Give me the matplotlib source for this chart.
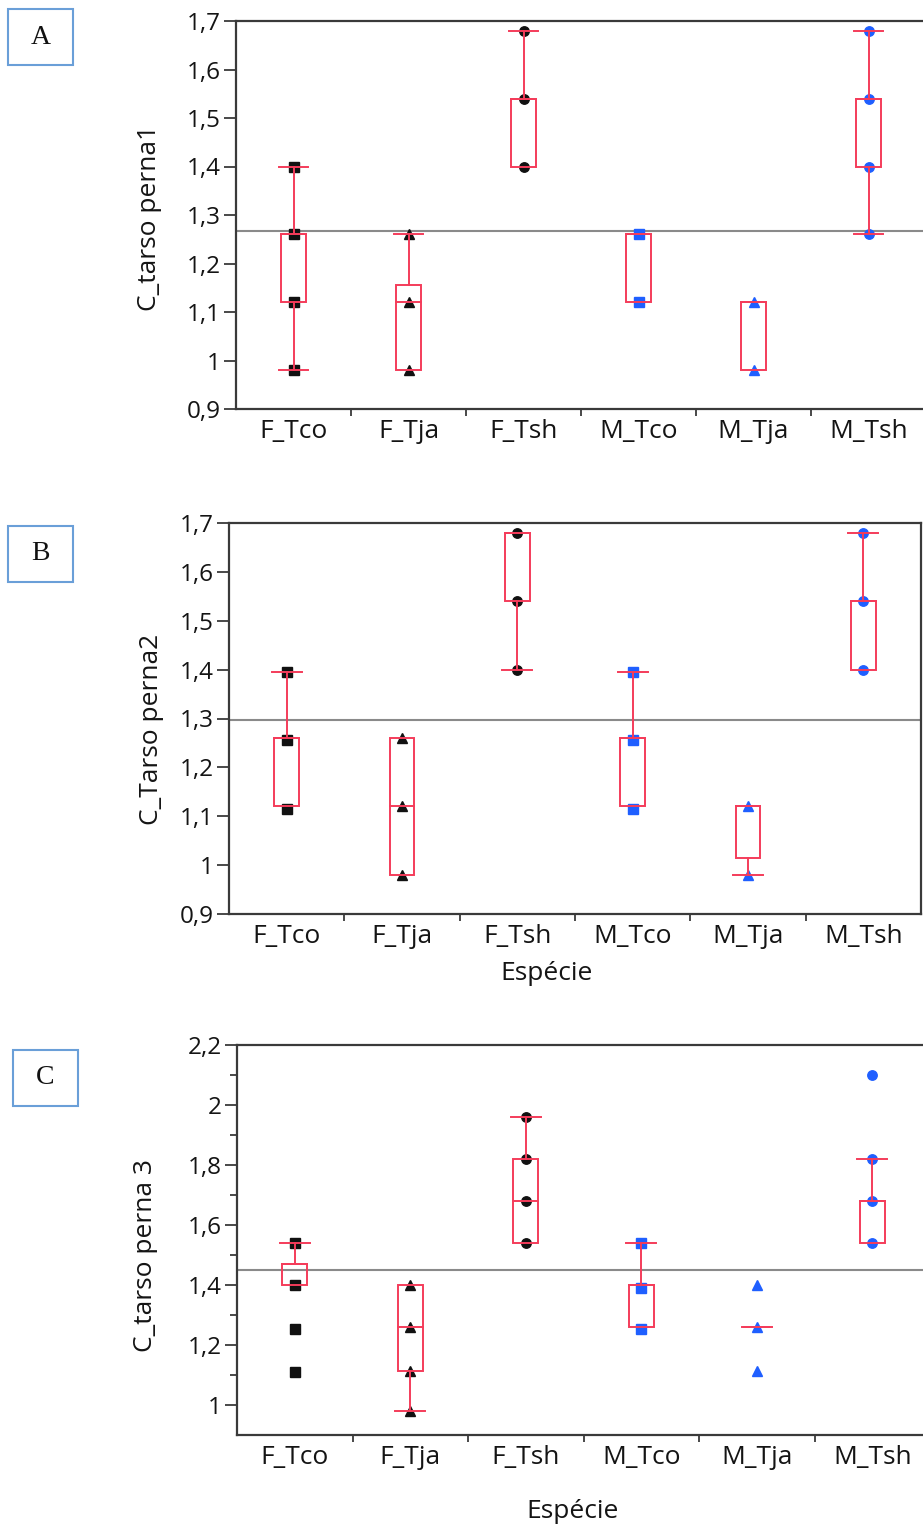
import matplotlib
matplotlib.use("Agg")
import matplotlib.pyplot as plt
from matplotlib.patches import Rectangle

plt.rcParams['font.family'] = ['Open Sans', 'DejaVu Sans']

W, H = 923, 1528

categories = ["F_Tco", "F_Tja", "F_Tsh", "M_Tco", "M_Tja", "M_Tsh"]

# panel A - C_tarso perna1
A_points = [[1.40, 1.26, 1.12, 0.98], [1.26, 1.12, 0.98], [1.68, 1.54, 1.40],
            [1.26, 1.12], [1.12, 0.98], [1.68, 1.54, 1.40, 1.26]]
A_q1 = [1.12, 0.98, 1.40, 1.12, 0.98, 1.40]
A_med = [1.26, 1.12, 1.54, 1.26, 1.12, 1.54]
A_q3 = [1.26, 1.155, 1.54, 1.26, 1.12, 1.54]
A_wlo = [0.98, 0.98, 1.40, 1.12, 0.98, 1.26]
A_whi = [1.40, 1.26, 1.68, 1.26, 1.12, 1.68]
A_mean = 1.268
A_yticks = [0.9, 1.0, 1.1, 1.2, 1.3, 1.4, 1.5, 1.6, 1.7]
A_ylabels = ["0,9", "1", "1,1", "1,2", "1,3", "1,4", "1,5", "1,6", "1,7"]

# panel B - C_Tarso perna2
B_points = [[1.395, 1.255, 1.115], [1.26, 1.12, 0.98], [1.68, 1.54, 1.40],
            [1.395, 1.255, 1.115], [1.12, 0.98], [1.68, 1.54, 1.40]]
B_q1 = [1.12, 0.98, 1.54, 1.12, 1.015, 1.40]
B_med = [1.26, 1.12, 1.68, 1.26, 1.12, 1.54]
B_q3 = [1.26, 1.26, 1.68, 1.26, 1.12, 1.54]
B_wlo = [1.12, 0.98, 1.40, 1.12, 0.98, 1.40]
B_whi = [1.395, 1.26, 1.68, 1.395, 1.12, 1.68]
B_mean = 1.297

# panel C - C_tarso perna 3
C_points = [[1.54, 1.40, 1.255, 1.11], [1.40, 1.26, 1.115, 0.98], [1.96, 1.82, 1.68, 1.54],
            [1.54, 1.39, 1.255], [1.40, 1.26, 1.115], [2.10, 1.82, 1.68, 1.54]]
C_q1 = [1.40, 1.115, 1.54, 1.26, 1.26, 1.54]
C_med = [1.47, 1.26, 1.68, 1.40, 1.26, 1.68]
C_q3 = [1.47, 1.40, 1.82, 1.40, 1.26, 1.68]
C_wlo = [1.40, 0.98, 1.54, 1.26, 1.26, 1.54]
C_whi = [1.54, 1.40, 1.96, 1.54, 1.26, 1.82]
C_mean = 1.45
C_yticks = [1.0, 1.2, 1.4, 1.6, 1.8, 2.0, 2.2]
C_ylabels = ["1", "1,2", "1,4", "1,6", "1,8", "2", "2,2"]
C_yminor = [1.1, 1.3, 1.5, 1.7, 1.9, 2.1]

marks = ["s", "^", "o", "s", "^", "o"]
cols = ["#111111", "#111111", "#111111", "#1f5fff", "#1f5fff", "#1f5fff"]
RED = "#f43c5a"
SPINE = "#3a3a3a"
TXT = "#141414"
FS = 19      # category labels / axis titles
FSY = 17.5   # y tick labels


def px(x0, y0, w, h):
    return [x0 / W, 1 - (y0 + h) / H, w / W, h / H]


def panel(rect, points, q1, med, q3, wlo, whi, mean, ylim, right_spine=False):
    ax = fig.add_axes(rect)
    for i in range(len(categories)):
        ax.plot([i] * len(points[i]), points[i], linestyle="none", marker=marks[i],
                color=cols[i], markersize=6.8, zorder=2)
        bw = 0.107
        ax.add_patch(Rectangle((i - bw, q1[i]), 2 * bw, q3[i] - q1[i], fill=False,
                               edgecolor=RED, linewidth=1.4, zorder=3))
        ax.plot([i - bw, i + bw], [med[i], med[i]], color=RED, lw=1.4, zorder=3)
        if q1[i] == q3[i]:
            ax.plot([i - 0.13, i + 0.13], [med[i], med[i]], color=RED, lw=1.4, zorder=3)
        if whi[i] > q3[i]:
            ax.plot([i, i], [q3[i], whi[i]], color=RED, lw=1.4, zorder=3)
            ax.plot([i - 0.13, i + 0.13], [whi[i], whi[i]], color=RED, lw=1.4, zorder=3)
        if wlo[i] < q1[i]:
            ax.plot([i, i], [wlo[i], q1[i]], color=RED, lw=1.4, zorder=3)
            ax.plot([i - 0.13, i + 0.13], [wlo[i], wlo[i]], color=RED, lw=1.4, zorder=3)
    ax.axhline(mean, color="#8a8a8a", lw=1.5, zorder=1)
    ax.set_xlim(-0.5, len(categories) - 0.5)
    ax.set_ylim(*ylim)
    ax.set_xticks(range(len(categories)))
    ax.set_xticklabels(categories, fontsize=FS, color=TXT)
    ax.set_xticks([i + 0.5 for i in range(len(categories) - 1)], minor=True)
    ax.tick_params(axis="x", which="major", length=0, pad=7)
    ax.tick_params(axis="x", which="minor", length=5, width=1.3, color=SPINE)
    ax.tick_params(axis="y", which="major", length=9, width=1.3, color=SPINE, pad=2,
                   labelsize=FSY, labelcolor=TXT)
    for s in ["left", "bottom", "top", "right"]:
        ax.spines[s].set_color(SPINE)
        ax.spines[s].set_linewidth(1.6)
    ax.spines["right"].set_visible(right_spine)
    return ax


fig = plt.figure(figsize=(W / 100, H / 100), dpi=100)

axA = panel(px(236, 21, 690, 388), A_points, A_q1, A_med, A_q3, A_wlo, A_whi, A_mean, (0.9, 1.7))
axA.set_yticks(A_yticks)
axA.set_yticklabels(A_ylabels)

axB = panel(px(229, 523, 692, 391), B_points, B_q1, B_med, B_q3, B_wlo, B_whi, B_mean, (0.9, 1.7),
            right_spine=True)
axB.set_yticks(A_yticks)
axB.set_yticklabels(A_ylabels)

axC = panel(px(237, 1045, 693, 390), C_points, C_q1, C_med, C_q3, C_wlo, C_whi, C_mean, (0.9, 2.2))
axC.set_yticks(C_yticks)
axC.set_yticklabels(C_ylabels)
axC.set_yticks(C_yminor, minor=True)
axC.tick_params(axis="y", which="minor", length=5, width=1.3, color=SPINE)

# y labels
fig.text(150 / W, 1 - 218 / H, "C_tarso perna1", rotation=90, ha="center", va="center",
         fontsize=FS, color=TXT)
fig.text(152 / W, 1 - 729 / H, "C_Tarso perna2", rotation=90, ha="center", va="center",
         fontsize=FS, color=TXT)
fig.text(146 / W, 1 - 1256 / H, "C_tarso perna 3", rotation=90, ha="center", va="center",
         fontsize=FS, color=TXT)

# x labels
fig.text(547 / W, 1 - 973 / H, "Espécie", ha="center", va="center", fontsize=FS, color=TXT)
fig.text(573 / W, 1 - 1512 / H, "Espécie", ha="center", va="center", fontsize=FS, color=TXT)

# panel letters
for letter, x0, y0 in [("A", 8, 9), ("B", 8, 526), ("C", 13, 1050)]:
    fig.patches.append(Rectangle((x0 / W, 1 - (y0 + 56) / H), 65 / W, 56 / H,
                                 transform=fig.transFigure, fill=False,
                                 edgecolor="#6a9fd8", linewidth=1.5))
    fig.text((x0 + 32.5) / W, 1 - (y0 + 28) / H, letter, ha="center", va="center",
             fontsize=20, family="Liberation Serif", color="#111111")

fig.savefig("out.png", dpi=100)
